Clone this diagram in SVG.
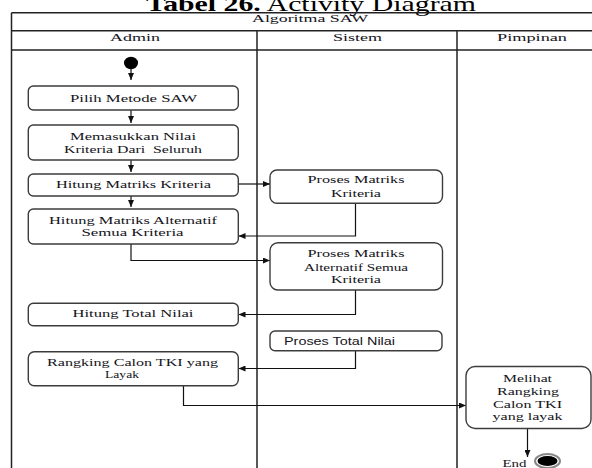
<svg xmlns="http://www.w3.org/2000/svg" width="592" height="468" viewBox="0 0 592 468">
  <style>
    .frame { fill: none; stroke: #222; stroke-width: 1.5; }
    .box { fill: #fff; stroke: #3c3c3c; stroke-width: 1.4; }
    .t { font-family: "Liberation Serif", "Times New Roman", serif; font-size: 11px; fill: #141420; text-anchor: middle; }
    .ts { font-family: "Liberation Sans", Arial, sans-serif; font-size: 10px; fill: #141420; }
    .title { font-family: "Liberation Serif", "Times New Roman", serif; font-size: 21px; fill: #000; text-anchor: middle; }
    .flow { fill: none; stroke: #111; stroke-width: 1.2; }
  </style>
  <defs>
    <marker id="arrow" markerUnits="userSpaceOnUse" markerWidth="8" markerHeight="6" refX="7" refY="3" orient="auto">
      <path d="M0,0 L7,3 L0,6 z" fill="#111"/>
    </marker>
  </defs>

  <rect width="592" height="468" fill="#fff"/>

  <!-- caption -->
  <text class="title" x="311" y="11" textLength="330" lengthAdjust="spacingAndGlyphs"><tspan font-weight="bold">Tabel 26.</tspan> Activity Diagram</text>

  <!-- swimlane table -->
  <g id="swimlanes">
    <path class="frame" d="M11.5,12.7 H600 M11.5,30.7 H600 M11.5,50 H600 M11.5,12.7 V468 M257,30.7 V468 M457,30.7 V468"/>
    <text class="t" x="310" y="22" textLength="116" lengthAdjust="spacingAndGlyphs">Algoritma SAW</text>
    <text class="t" x="135" y="41" textLength="50" lengthAdjust="spacingAndGlyphs">Admin</text>
    <text class="t" x="357.5" y="41" textLength="49" lengthAdjust="spacingAndGlyphs">Sistem</text>
    <text class="t" x="532" y="40.5" textLength="70" lengthAdjust="spacingAndGlyphs">Pimpinan</text>
  </g>

  <!-- connectors -->
  <g id="connectors">
    <path class="flow" d="M131,69 V80" marker-end="url(#arrow)"/>
    <path class="flow" d="M131,110 V123" marker-end="url(#arrow)"/>
    <path class="flow" d="M131,160 V172" marker-end="url(#arrow)"/>
    <path class="flow" d="M131,196 V207" marker-end="url(#arrow)"/>
    <path class="flow" d="M238.5,184 H270" marker-end="url(#arrow)"/>
    <path class="flow" d="M355.5,203.3 V236 H238.5" marker-end="url(#arrow)"/>
    <path class="flow" d="M131,244 V260.5 H270" marker-end="url(#arrow)"/>
    <path class="flow" d="M355.5,290 V314.5 H238.5" marker-end="url(#arrow)"/>
    <path class="flow" d="M355.5,351 V368.5 H238.5" marker-end="url(#arrow)"/>
    <path class="flow" d="M183.5,386 V405.5 H466" marker-end="url(#arrow)"/>
    <path class="flow" d="M527.5,428.5 V457" marker-end="url(#arrow)"/>
  </g>

  <!-- start -->
  <g id="start">
    <ellipse cx="131" cy="63" rx="7" ry="6.2" fill="#000"/>
  </g>

  <!-- Admin lane -->
  <g id="pilih-metode">
    <rect class="box" x="28.3" y="86" width="210" height="24" rx="5"/>
    <text class="t" x="133.5" y="101.5" textLength="127" lengthAdjust="spacingAndGlyphs">Pilih Metode SAW</text>
  </g>
  <g id="masukkan-nilai">
    <rect class="box" x="28.3" y="125" width="210" height="35" rx="5"/>
    <text class="t" x="133" y="139.5" textLength="126" lengthAdjust="spacingAndGlyphs">Memasukkan Nilai</text>
    <text class="t" x="133" y="152.5" textLength="138" lengthAdjust="spacingAndGlyphs" style="white-space:pre">Kriteria Dari  Seluruh</text>
  </g>
  <g id="hitung-matriks-kriteria">
    <rect class="box" x="28.3" y="174" width="210" height="22" rx="5"/>
    <text class="t" x="133.5" y="188" textLength="155" lengthAdjust="spacingAndGlyphs">Hitung Matriks Kriteria</text>
  </g>
  <g id="hitung-matriks-alternatif">
    <rect class="box" x="28.3" y="209" width="210" height="35" rx="5"/>
    <text class="t" x="133" y="224" textLength="168" lengthAdjust="spacingAndGlyphs">Hitung Matriks Alternatif</text>
    <text class="t" x="132.5" y="236" textLength="102" lengthAdjust="spacingAndGlyphs">Semua Kriteria</text>
  </g>
  <g id="hitung-total">
    <rect class="box" x="28.3" y="303.3" width="210" height="22.4" rx="5"/>
    <text class="t" x="133" y="317" textLength="121" lengthAdjust="spacingAndGlyphs">Hitung Total Nilai</text>
  </g>
  <g id="rangking">
    <rect class="box" x="28.3" y="351.7" width="210" height="34" rx="6"/>
    <text class="t" x="132.5" y="365.5" textLength="171" lengthAdjust="spacingAndGlyphs">Rangking Calon TKI yang</text>
    <text class="t" x="122" y="377.5" textLength="34" lengthAdjust="spacingAndGlyphs">Layak</text>
  </g>

  <!-- Sistem lane -->
  <g id="proses-matriks-kriteria">
    <rect class="box" x="270" y="170" width="172.5" height="33.3" rx="7"/>
    <text class="t" x="356" y="183" textLength="97" lengthAdjust="spacingAndGlyphs">Proses Matriks</text>
    <text class="t" x="356" y="196.5" textLength="50" lengthAdjust="spacingAndGlyphs">Kriteria</text>
  </g>
  <g id="proses-matriks-alternatif">
    <rect class="box" x="270" y="242.7" width="172.5" height="47.3" rx="8"/>
    <text class="t" x="356" y="257" textLength="97" lengthAdjust="spacingAndGlyphs">Proses Matriks</text>
    <text class="t" x="356" y="270.5" textLength="104" lengthAdjust="spacingAndGlyphs">Alternatif Semua</text>
    <text class="t" x="356" y="283" textLength="50" lengthAdjust="spacingAndGlyphs">Kriteria</text>
  </g>
  <g id="proses-total">
    <rect class="box" x="270" y="331" width="172" height="19.7" rx="5"/>
    <text class="ts" x="284" y="344.5" textLength="111" lengthAdjust="spacingAndGlyphs">Proses Total Nilai</text>
  </g>

  <!-- Pimpinan lane -->
  <g id="melihat-rangking">
    <rect class="box" x="466" y="366.5" width="125" height="62" rx="9"/>
    <text class="t" x="527.5" y="381.5" textLength="49" lengthAdjust="spacingAndGlyphs">Melihat</text>
    <text class="t" x="528" y="395" textLength="62" lengthAdjust="spacingAndGlyphs">Rangking</text>
    <text class="t" x="527.5" y="408" textLength="69" lengthAdjust="spacingAndGlyphs">Calon TKI</text>
    <text class="t" x="527.5" y="420" textLength="70" lengthAdjust="spacingAndGlyphs">yang layak</text>
  </g>

  <!-- end -->
  <g id="end">
    <ellipse cx="547.5" cy="461" rx="12.5" ry="7" fill="#fff" stroke="#888" stroke-width="2"/>
    <ellipse cx="547.5" cy="461" rx="10" ry="5" fill="#000"/>
    <text class="t" x="514.5" y="467" textLength="24" lengthAdjust="spacingAndGlyphs">End</text>
  </g>
</svg>
